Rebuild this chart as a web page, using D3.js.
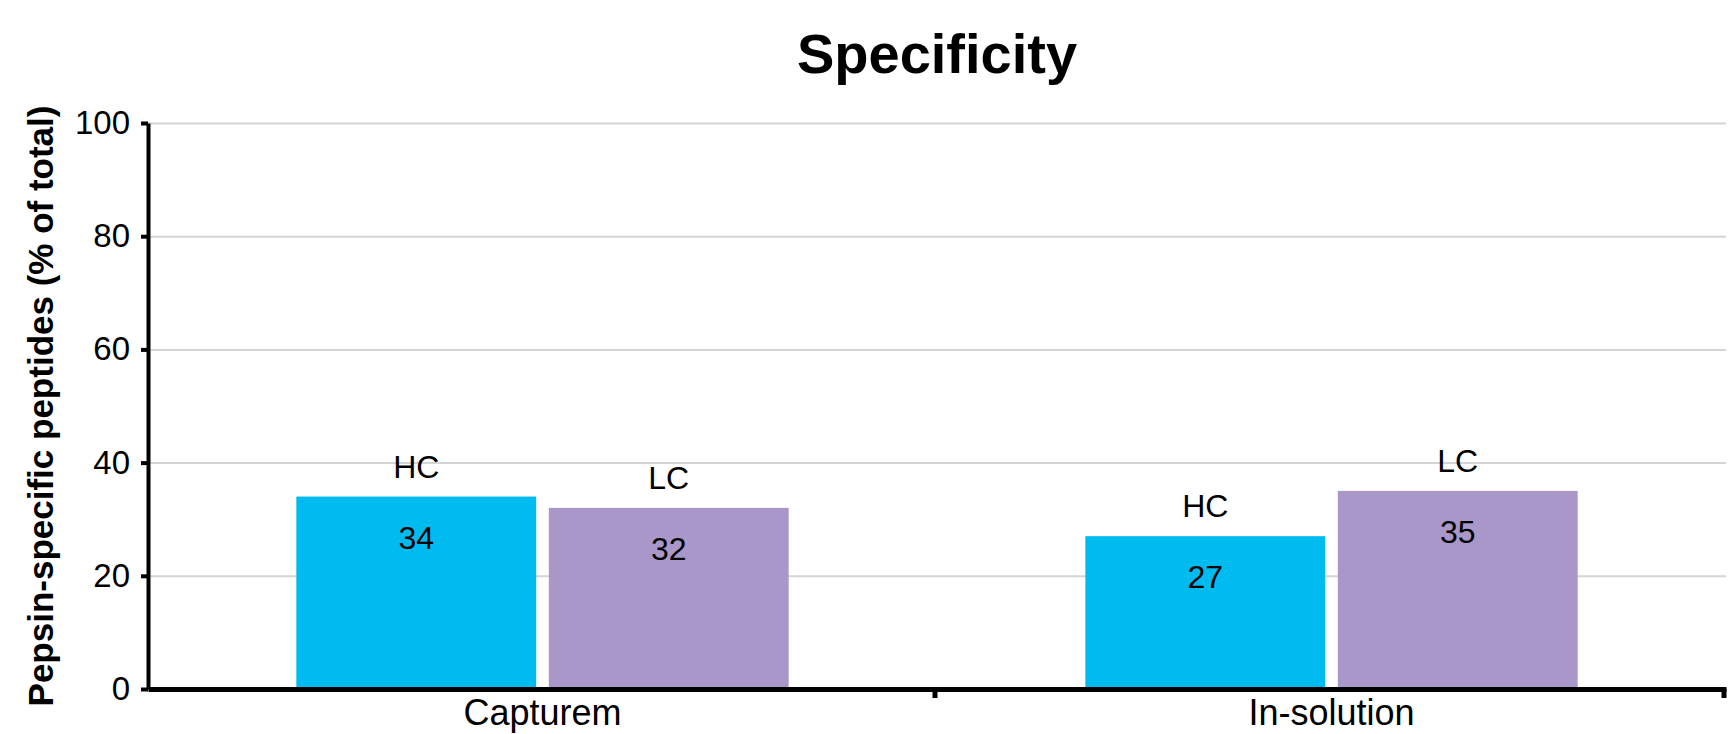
<!DOCTYPE html>
<html>
<head>
<meta charset="utf-8">
<script src="https://cdn.jsdelivr.net/npm/d3@7/dist/d3.min.js"></script>
<style>
  html, body { margin: 0; padding: 0; background: #ffffff; }
  svg { display: block; }
  text { font-family: "Liberation Sans", Arial, Helvetica, sans-serif; fill: #000; }
</style>
</head>
<body>
<svg id="chart" width="1729" height="734"></svg>
<script>
// ---- data ----
const categories = ["Capturem", "In-solution"];
const seriesNames = ["HC", "LC"];
const hcValues = [34, 27];
const lcValues = [32, 35];
const yTicks = [0, 20, 40, 60, 80, 100];
const titleText = "Specificity";
const yTitleText = "Pepsin-specific peptides (% of total)";
const seriesColors = ["#00BBF0", "#A897C8"];

// ---- layout ----
const W = 1729, H = 734;
const margin = { left: 148, right: 3, top: 123, bottom: 45 };
const svg = d3.select("#chart");

const y = d3.scaleLinear().domain([0, 100]).range([H - margin.bottom, margin.top]);
const x0 = d3.scaleBand().domain(categories).range([margin.left, W - margin.right]).paddingInner(0).paddingOuter(0);
const groupFrac = 0.624;
const bw0 = x0.bandwidth();
const x1 = d3.scaleBand().domain(seriesNames)
  .range([bw0 * (1 - groupFrac) / 2, bw0 * (1 + groupFrac) / 2])
  .paddingInner(0.05).paddingOuter(0);
const color = d3.scaleOrdinal().domain(seriesNames).range(seriesColors);

const rows = categories.map((c, i) => ({ cat: c, values: [
  { key: "HC", value: hcValues[i] },
  { key: "LC", value: lcValues[i] }
]}));

// gridlines
svg.append("g")
  .attr("transform", `translate(${margin.left},0)`)
  .call(d3.axisLeft(y).tickValues(yTicks.filter(v => v > 0)).tickSize(-(W - margin.right - margin.left)).tickFormat(""))
  .call(g => g.select(".domain").remove())
  .call(g => g.selectAll("line").attr("stroke", "#d4d4d4").attr("stroke-width", 2));

// bars
const groups = svg.append("g").selectAll("g").data(rows).join("g")
  .attr("transform", d => `translate(${x0(d.cat)},0)`);

groups.selectAll("rect").data(d => d.values).join("rect")
  .attr("x", d => x1(d.key))
  .attr("width", x1.bandwidth())
  .attr("y", d => y(d.value))
  .attr("height", d => y(0) - y(d.value))
  .attr("fill", d => color(d.key));

// series labels above bars
groups.selectAll("text.series").data(d => d.values).join("text")
  .attr("class", "series")
  .attr("x", d => x1(d.key) + x1.bandwidth() / 2)
  .attr("y", d => y(d.value) - 19)
  .attr("text-anchor", "middle")
  .style("font-size", "32px")
  .text(d => d.key);

// value labels inside bars
groups.selectAll("text.value").data(d => d.values).join("text")
  .attr("class", "value")
  .attr("x", d => x1(d.key) + x1.bandwidth() / 2)
  .attr("y", d => y(d.value) + 52)
  .attr("text-anchor", "middle")
  .style("font-size", "32px")
  .text(d => d.value);

// y axis
const yAxis = svg.append("g")
  .attr("transform", `translate(${margin.left},0)`)
  .call(d3.axisLeft(y).tickValues(yTicks).tickSize(7).tickSizeOuter(0).tickPadding(11));
yAxis.select(".domain").attr("stroke", "#000").attr("stroke-width", 4);
yAxis.selectAll(".tick line").attr("stroke", "#000").attr("stroke-width", 4);
yAxis.selectAll(".tick text")
  .style("font-size", "33px")
  .style("font-family", "'Liberation Sans', Arial, sans-serif")
  .attr("fill", "#000");

// x axis (domain + boundary ticks)
const xAxisY = y(0);
const xAxis = svg.append("g").attr("transform", `translate(0,${xAxisY})`)
  .call(d3.axisBottom(x0).tickSize(0).tickSizeOuter(0).tickFormat(""));
xAxis.select(".domain").attr("stroke", "#000").attr("stroke-width", 5);
xAxis.selectAll(".tick").remove();
xAxis.selectAll("line.bound").data(categories).join("line")
  .attr("class", "bound")
  .attr("x1", d => x0(d) + x0.bandwidth() - 2)
  .attr("x2", d => x0(d) + x0.bandwidth() - 2)
  .attr("y1", 0).attr("y2", 9)
  .attr("stroke", "#000").attr("stroke-width", 5);

// category labels
svg.append("g").selectAll("text").data(categories).join("text")
  .attr("x", d => x0(d) + x0.bandwidth() / 2)
  .attr("y", 725)
  .attr("text-anchor", "middle")
  .style("font-size", "36px")
  .text(d => d);

// y title
svg.append("text")
  .attr("transform", `translate(53,${(margin.top + 689) / 2 + 0})rotate(-90)`)
  .attr("text-anchor", "middle")
  .style("font-size", "35px")
  .style("font-weight", "bold")
  .text(yTitleText);

// title
svg.append("text")
  .attr("x", (margin.left + W - margin.right) / 2)
  .attr("y", 73)
  .attr("text-anchor", "middle")
  .style("font-size", "56px")
  .style("font-weight", "bold")
  .text(titleText);
</script>
</body>
</html>
